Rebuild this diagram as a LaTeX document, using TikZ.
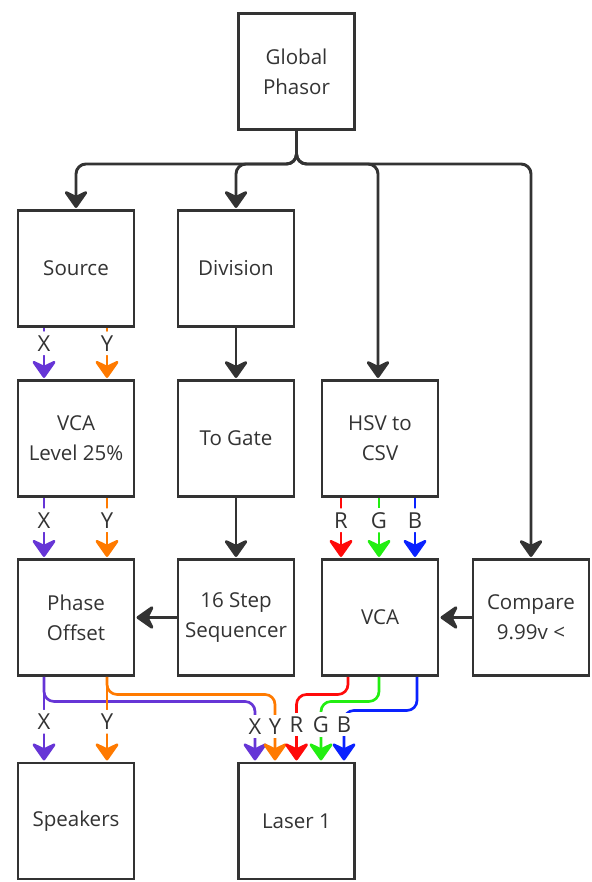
\documentclass[tikz,border=0pt]{standalone}
\usepackage{fontspec}
\setmainfont{Open Sans}
\usetikzlibrary{arrows.meta,calc}
\definecolor{ink}{HTML}{333333}
\definecolor{cX}{HTML}{6635D6}
\definecolor{cY}{HTML}{FF7A00}
\definecolor{cR}{HTML}{FF0A0A}
\definecolor{cG}{HTML}{22EE11}
\definecolor{cB}{HTML}{0A22FF}
\begin{document}
\begin{tikzpicture}[x=0.75pt,y=-0.75pt,
  box/.style={draw=ink,line width=2.2pt,fill=white,minimum width=87pt,minimum height=87pt,
    align=center,text=ink,font=\fontsize{15.4}{22.5}\selectfont,inner sep=0pt},
  tip/.style={-{Stealth[length=15pt,width=21pt,inset=5pt,round]}},
  darr/.style={draw=ink,line width=2.2pt,tip,rounded corners=7.5pt,shorten >=0.8pt},
  carr/.style={line width=2pt,tip,rounded corners=7.5pt,shorten >=0.8pt},
  lbl/.style={fill=white,text=ink,font=\fontsize{16.5}{19}\selectfont,inner sep=3pt}]
\useasboundingbox (0,0) rectangle (592,882);

% boxes
\node[box] (GP)   at (296.5,71.5)  {Global\\Phasor};
\node[box] (Src)  at (76,268.5)    {Source};
\node[box] (Div)  at (236,268.5)   {Division};
\node[box] (VCAL) at (76,438.5)    {VCA\\Level 25\%};
\node[box] (Gate) at (236,438.5)   {To Gate};
\node[box] (HSV)  at (380,438.5)   {HSV to\\CSV};
\node[box] (PO)   at (76,617.5)    {Phase\\Offset};
\node[box] (Seq)  at (236,617.5)   {16 Step\\Sequencer};
\node[box] (VCA)  at (380,617.5)   {VCA};
\node[box] (Cmp)  at (531,617.5)   {Compare\\9.99v <};
\node[box] (Spk)  at (76,821)      {Speakers};
\node[box] (Las)  at (296.5,821)   {Laser 1};

% global phasor fan-out
\coordinate (jt) at ($(GP.south)+(0,33)$);
\draw[darr] (GP.south) -- (jt) -| (Src.north);
\draw[darr] (GP.south) -- (jt) -| (Div.north);
\draw[darr] (GP.south) -- (jt) -| ($(HSV.north)+(-2,0)$);
\draw[darr] (GP.south) -- (jt) -| (Cmp.north);

% dark straight connectors
\draw[darr] (Div) -- (Gate);
\draw[darr] (Gate) -- (Seq);
\draw[darr] (Seq) -- (PO);
\draw[darr] (Cmp) -- (VCA);

% Source -> VCA Level
\draw[carr,cX] ($(Src.south)+(-32,0)$) -- node[lbl,pos=0.3]{X} ($(VCAL.north)+(-32,0)$);
\draw[carr,cY] ($(Src.south)+(31,0)$) -- node[lbl,pos=0.3]{Y} ($(VCAL.north)+(31,0)$);

% VCA Level -> Phase Offset
\draw[carr,cX] ($(VCAL.south)+(-32,0)$) -- node[lbl,pos=0.37]{X} ($(PO.north)+(-32,0)$);
\draw[carr,cY] ($(VCAL.south)+(31,0)$) -- node[lbl,pos=0.37]{Y} ($(PO.north)+(31,0)$);

% HSV -> VCA
\draw[carr,cR] ($(HSV.south)+(-39,0)$) -- node[lbl,pos=0.37]{R} ($(VCA.north)+(-39,0)$);
\draw[carr,cG] ($(HSV.south)+(-1,0)$) -- node[lbl,pos=0.37]{G} ($(VCA.north)+(-1,0)$);
\draw[carr,cB] ($(HSV.south)+(35,0)$) -- node[lbl,pos=0.37]{B} ($(VCA.north)+(35,0)$);

% Phase Offset -> Laser / Speakers
\draw[carr,cX] ($(PO.south)+(-32,0)$) -- ++(0,24.5) -| ($(Las.north)+(-41.5,0)$);
\draw[carr,cX] ($(PO.south)+(-32,0)$) -- node[lbl,pos=0.53]{X} ($(Spk.north)+(-32,0)$);
\draw[carr,cY] ($(PO.south)+(31,0)$) -- ++(0,17.5) -| ($(Las.north)+(-21.5,0)$);
\draw[carr,cY] ($(PO.south)+(31,0)$) -- node[lbl,pos=0.53]{Y} ($(Spk.north)+(31,0)$);

% VCA -> Laser
\draw[carr,cR] ($(VCA.south)+(-32,0)$) -- ++(0,17.5) -| (Las.north);
\draw[carr,cG] ($(VCA.south)+(-1,0)$) -- ++(0,24.5) -| ($(Las.north)+(24.5,0)$);
\draw[carr,cB] ($(VCA.south)+(37,0)$) -- ++(0,33.5) -| ($(Las.north)+(47.5,0)$);

% Laser input labels
\node[lbl] (lx) at ($(Las.north)+(-41.5,-35)$) {X};
\node[lbl] (ly) at ($(Las.north)+(-21.5,-35)$) {Y};
\node[lbl] (lr) at ($(Las.north)+(0,-37)$) {R};
\node[lbl] (lg) at ($(Las.north)+(24.5,-37)$) {G};
\node[lbl] (lb) at ($(Las.north)+(47.5,-37)$) {B};
\end{tikzpicture}
\end{document}
